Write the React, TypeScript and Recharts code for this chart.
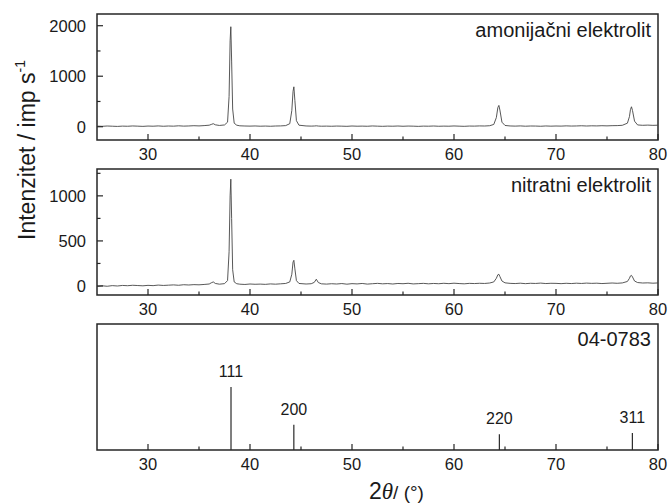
import React from 'react';
import { ComposedChart, Line, Bar, LabelList, XAxis, YAxis, ReferenceArea } from 'recharts';

// 2θ positions shared by both measured patterns (denser around the Ag peaks)
const angles = [
  25, 25.5, 26, 26.5, 27, 27.5, 28, 28.5, 29, 29.5,
  30, 30.5, 31, 31.5, 32, 32.5, 33, 33.5, 34, 34.5,
  35, 35.5, 36, 36.2, 36.4, 36.6, 37, 37.5, 37.8, 37.95,
  38.05, 38.12, 38.2, 38.3, 38.45, 38.7, 39, 39.5, 40, 40.5,
  41, 41.5, 42, 42.5, 43, 43.5, 43.9, 44.1, 44.22, 44.3,
  44.4, 44.55, 44.8, 45.5, 46, 46.3, 46.5, 46.7, 47, 47.5,
  48, 48.5, 49, 49.5, 50, 50.5, 51, 51.5, 52, 52.5,
  53, 53.5, 54, 54.5, 55, 55.5, 56, 56.5, 57, 57.5,
  58, 58.5, 59, 59.5, 60, 60.5, 61, 61.5, 62, 62.5,
  63, 63.5, 63.9, 64.15, 64.3, 64.4, 64.5, 64.7, 65, 65.5,
  66, 66.5, 67, 67.5, 68, 68.5, 69, 69.5, 70, 70.5,
  71, 71.5, 72, 72.5, 73, 73.5, 74, 74.5, 75, 75.5,
  76, 76.5, 77, 77.2, 77.3, 77.4, 77.5, 77.7, 78, 78.5,
  79, 79.5, 80,
];

// amonijačni elektrolit, imp/s
const amonijacni = [
  12, 8, 14, 10, 6, 12, 9, 15, 11, 7,
  13, 10, 16, 9, 14, 11, 18, 12, 15, 20,
  16, 22, 30, 45, 60, 38, 25, 35, 90, 600,
  1700, 1980, 1300, 350, 70, 30, 18, 14, 12, 15,
  10, 13, 9, 14, 16, 22, 60, 320, 700, 790,
  520, 120, 30, 15, 12, 14, 18, 13, 10, 12,
  9, 13, 11, 8, 14, 10, 12, 9, 15, 11,
  8, 12, 10, 14, 9, 13, 11, 7, 12, 10,
  14, 9, 12, 10, 15, 11, 8, 13, 12, 16,
  14, 20, 45, 180, 380, 422, 330, 90, 25, 15,
  12, 16, 10, 14, 13, 9, 15, 11, 14, 12,
  17, 13, 15, 19, 14, 18, 16, 20, 17, 21,
  22, 28, 70, 200, 340, 395, 320, 110, 35, 28,
  32, 27, 30,
];

// nitratni elektrolit, imp/s
const nitratni = [
  -5, 2, -3, 4, 0, 6, 3, 8, 5, 2,
  7, 4, 10, 6, 9, 12, 8, 14, 11, 15,
  13, 17, 22, 35, 45, 28, 20, 26, 60, 380,
  1000, 1185, 750, 180, 45, 25, 20, 17, 22, 19,
  21, 18, 23, 20, 24, 28, 45, 130, 265, 285,
  190, 60, 28, 22, 25, 40, 75, 38, 24, 21,
  25, 22, 27, 20, 26, 23, 28, 21, 25, 29,
  24, 27, 22, 28, 25, 30, 23, 26, 29, 24,
  28, 25, 30, 26, 31, 27, 24, 29, 27, 30,
  28, 33, 45, 85, 125, 130, 105, 55, 35, 29,
  27, 31, 26, 30, 28, 32, 27, 30, 29, 26,
  30, 27, 31, 28, 32, 29, 31, 27, 30, 33,
  30, 34, 50, 85, 112, 118, 100, 55, 38, 33,
  35, 31, 34,
];

// PDF card 04-0783 (Ag)
const stickAngles = [38.12, 44.28, 64.43, 77.47];
const stickIntensity = [100, 40, 25, 27];
const stickHkl = ['111', '200', '220', '311'];

const xTicks = [30, 35, 40, 45, 50, 55, 60, 65, 70, 75, 80];
const xLabels = [30, 40, 50, 60, 70, 80];
const topYTicks = [0, 500, 1000, 1500, 2000];
const topYLabels = [0, 1000, 2000];
const midYTicks = [0, 250, 500, 750, 1000, 1250];
const midYLabels = [0, 500, 1000];

const FONT = '"Liberation Sans", Arial, sans-serif';
const INK = '#1a1a1a';
const FRAME = '#262626';

const patternData = angles.map((a, i) => ({ angle: a, amon: amonijacni[i], nitr: nitratni[i] }));
const stickData = stickAngles.map((a, i) => ({ angle: a, rel: stickIntensity[i], hkl: stickHkl[i] }));

const makeXTick = (labels: number[]) => (props: any) => {
  const { x, y, payload } = props;
  const major = labels.includes(payload.value);
  return (
    <g>
      <line x1={x} x2={x} y1={y} y2={y - (major ? 6 : 3.5)} stroke={FRAME} strokeWidth={1.2} />
      {major && (
        <text x={x} y={y + 19.5} textAnchor="middle" fontSize={16.5} fill={INK} fontFamily={FONT}>
          {payload.value}
        </text>
      )}
    </g>
  );
};

const makeYTick = (labels: number[]) => (props: any) => {
  const { x, y, payload } = props;
  const major = labels.includes(payload.value);
  return (
    <g>
      <line x1={x} x2={x + (major ? 6 : 3.5)} y1={y} y2={y} stroke={FRAME} strokeWidth={1.2} />
      {major && (
        <text x={x - 11} y={y + 6} textAnchor="end" fontSize={16.5} fill={INK} fontFamily={FONT}>
          {payload.value}
        </text>
      )}
    </g>
  );
};

const PatternPanel = ({ top, height, marginTop, dataKey, yDomain, yTicks, yLabels, title, titleY }: any) => (
  <div style={{ position: 'absolute', left: 0, top, width: 669, height }}>
    <ComposedChart width={669} height={height} data={patternData} margin={{ top: marginTop, right: 11, left: 0, bottom: 0 }}>
      <XAxis
        dataKey="angle"
        type="number"
        domain={[25, 80]}
        ticks={xTicks}
        interval={0}
        height={30}
        tickSize={0}
        tickMargin={0}
        tickLine={false}
        axisLine={false}
        tick={makeXTick(xLabels)}
        allowDataOverflow
      />
      <YAxis
        type="number"
        domain={yDomain}
        ticks={yTicks}
        interval={0}
        width={97}
        tickSize={0}
        tickMargin={0}
        tickLine={false}
        axisLine={false}
        tick={makeYTick(yLabels)}
        allowDataOverflow
      />
      <ReferenceArea x1={25} x2={80} y1={yDomain[0]} y2={yDomain[1]} fill="none" stroke={FRAME} strokeWidth={1.5} ifOverflow="visible" />
      <Line type="linear" dataKey={dataKey} stroke="#454545" strokeWidth={0.9} dot={false} isAnimationActive={false} />
    </ComposedChart>
    <svg width={669} height={height} style={{ position: 'absolute', left: 0, top: 0, pointerEvents: 'none' }}>
      <text x={651} y={titleY} textAnchor="end" fontSize={20} fill={INK} fontFamily={FONT}>{title}</text>
    </svg>
  </div>
);

const StickPanel = () => (
  <div style={{ position: 'absolute', left: 0, top: 300, width: 669, height: 180 }}>
    <ComposedChart width={669} height={180} data={stickData} margin={{ top: 24, right: 11, left: 0, bottom: 0 }}>
      <XAxis
        dataKey="angle"
        type="number"
        domain={[25, 80]}
        ticks={xTicks}
        interval={0}
        height={30}
        tickSize={0}
        tickMargin={0}
        tickLine={false}
        axisLine={false}
        tick={makeXTick(xLabels)}
      />
      <YAxis type="number" domain={[0, 200]} width={97} tick={false} tickLine={false} axisLine={false} />
      <ReferenceArea x1={25} x2={80} y1={0} y2={200} fill="none" stroke={FRAME} strokeWidth={1.5} ifOverflow="visible" />
      <Bar dataKey="rel" barSize={1.2} fill="#2a2a2a" isAnimationActive={false}>
        <LabelList dataKey="hkl" position="top" offset={10} fontSize={16} fill={INK} fontFamily={FONT} />
      </Bar>
    </ComposedChart>
    <svg width={669} height={180} style={{ position: 'absolute', left: 0, top: 0, pointerEvents: 'none' }}>
      <text x={651} y={46} textAnchor="end" fontSize={20} fill={INK} fontFamily={FONT}>04-0783</text>
    </svg>
  </div>
);

export default function App() {
  return (
    <div style={{ position: 'absolute', left: 0, top: 0, width: 669, height: 504, background: '#fff', fontFamily: FONT }}>
      <PatternPanel
        top={0}
        height={170}
        marginTop={14}
        dataKey="amon"
        yDomain={[-263, 2232]}
        yTicks={topYTicks}
        yLabels={topYLabels}
        title="amonijačni elektrolit"
        titleY={37}
      />
      <PatternPanel
        top={150}
        height={175}
        marginTop={19}
        dataKey="nitr"
        yDomain={[-100, 1298]}
        yTicks={midYTicks}
        yLabels={midYLabels}
        title="nitratni elektrolit"
        titleY={42}
      />
      <StickPanel />
      <svg width={669} height={504} style={{ position: 'absolute', left: 0, top: 0, pointerEvents: 'none' }}>
        <text transform="translate(35,150) rotate(-90)" textAnchor="middle" fontSize={23} fill={INK} fontFamily={FONT}>
          Intenzitet / imp s<tspan dy={-10} fontSize={14}>-1</tspan>
        </text>
        <text x={369} y={499} fontSize={23} fill={INK} fontFamily={FONT}>
          2<tspan fontStyle="italic" fontFamily='"Liberation Serif", serif'>θ</tspan>
          <tspan fontSize={19}>/ (</tspan>
          <tspan fontSize={19}>°</tspan>
          <tspan fontSize={19}>)</tspan>
        </text>
      </svg>
    </div>
  );
}
